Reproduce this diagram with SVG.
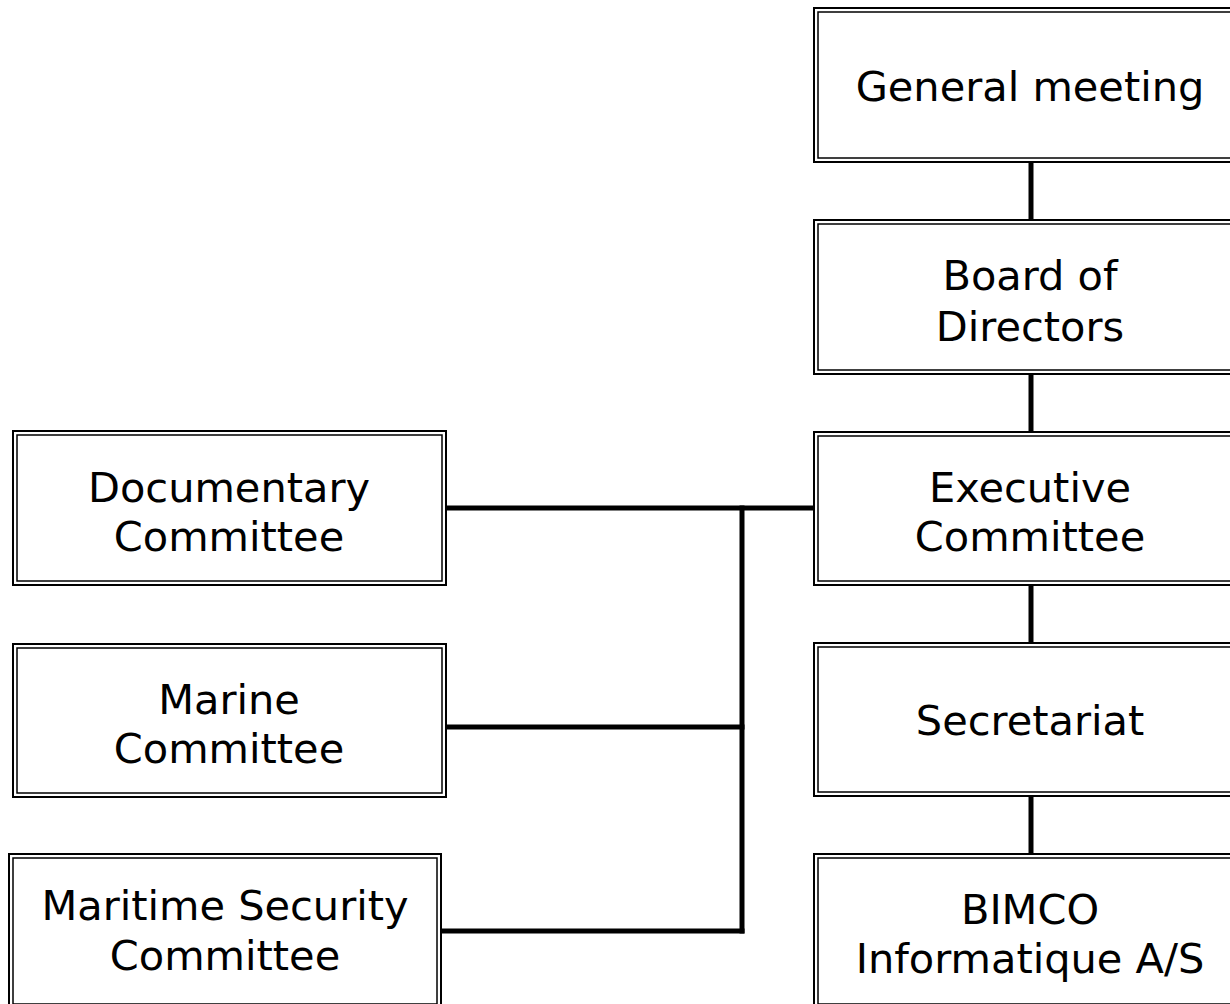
<svg xmlns="http://www.w3.org/2000/svg" width="1230" height="1004" viewBox="0 0 1230 1004">
  <style>
    .outer { fill: #fff; stroke: #000; stroke-width: 2; }
    .inner { fill: none; stroke: #000; stroke-width: 1.5; }
    .label { font-family: "DejaVu Sans", Verdana, sans-serif; font-size: 41.5px; fill: #000; text-anchor: middle; }
    .link { stroke: #000; stroke-width: 5; fill: none; stroke-linecap: square; }
  </style>
  <rect width="1230" height="1004" fill="#fff"/>

  <!-- connectors -->
  <g id="connectors">
    <line class="link" x1="1031" y1="163" x2="1031" y2="219"/>
    <line class="link" x1="1031" y1="375" x2="1031" y2="431"/>
    <line class="link" x1="1031" y1="586" x2="1031" y2="642"/>
    <line class="link" x1="1031" y1="797" x2="1031" y2="853"/>
    <line class="link" x1="448" y1="508" x2="812" y2="508"/>
    <line class="link" x1="742" y1="508" x2="742" y2="931"/>
    <line class="link" x1="448" y1="727" x2="742" y2="727"/>
    <line class="link" x1="443" y1="931" x2="742" y2="931"/>
  </g>

  <!-- right column -->
  <g id="general-meeting">
    <rect class="outer" x="814" y="8" width="432" height="154"/>
    <rect class="inner" x="818" y="12" width="424" height="146"/>
    <text class="label" x="1030" y="101">General meeting</text>
  </g>
  <g id="board-of-directors">
    <rect class="outer" x="814" y="220" width="432" height="154"/>
    <rect class="inner" x="818" y="224" width="424" height="146"/>
    <text class="label" x="1030" y="290">Board of</text>
    <text class="label" x="1030" y="341">Directors</text>
  </g>
  <g id="executive-committee">
    <rect class="outer" x="814" y="432" width="432" height="153"/>
    <rect class="inner" x="818" y="436" width="424" height="145"/>
    <text class="label" x="1030" y="502">Executive</text>
    <text class="label" x="1030" y="551">Committee</text>
  </g>
  <g id="secretariat">
    <rect class="outer" x="814" y="643" width="432" height="153"/>
    <rect class="inner" x="818" y="647" width="424" height="145"/>
    <text class="label" x="1030" y="735">Secretariat</text>
  </g>
  <g id="bimco-informatique">
    <rect class="outer" x="814" y="854" width="432" height="154"/>
    <rect class="inner" x="818" y="858" width="424" height="146"/>
    <text class="label" x="1030" y="924">BIMCO</text>
    <text class="label" x="1030" y="973">Informatique A/S</text>
  </g>

  <!-- left column -->
  <g id="documentary-committee">
    <rect class="outer" x="13" y="431" width="433" height="154"/>
    <rect class="inner" x="17" y="435" width="425" height="146"/>
    <text class="label" x="229" y="502">Documentary</text>
    <text class="label" x="229" y="551">Committee</text>
  </g>
  <g id="marine-committee">
    <rect class="outer" x="13" y="644" width="433" height="153"/>
    <rect class="inner" x="17" y="648" width="425" height="145"/>
    <text class="label" x="229" y="714">Marine</text>
    <text class="label" x="229" y="763">Committee</text>
  </g>
  <g id="maritime-security-committee">
    <rect class="outer" x="9" y="854" width="432" height="154"/>
    <rect class="inner" x="13" y="858" width="424" height="146"/>
    <text class="label" x="225" y="920">Maritime Security</text>
    <text class="label" x="225" y="970">Committee</text>
  </g>
</svg>
